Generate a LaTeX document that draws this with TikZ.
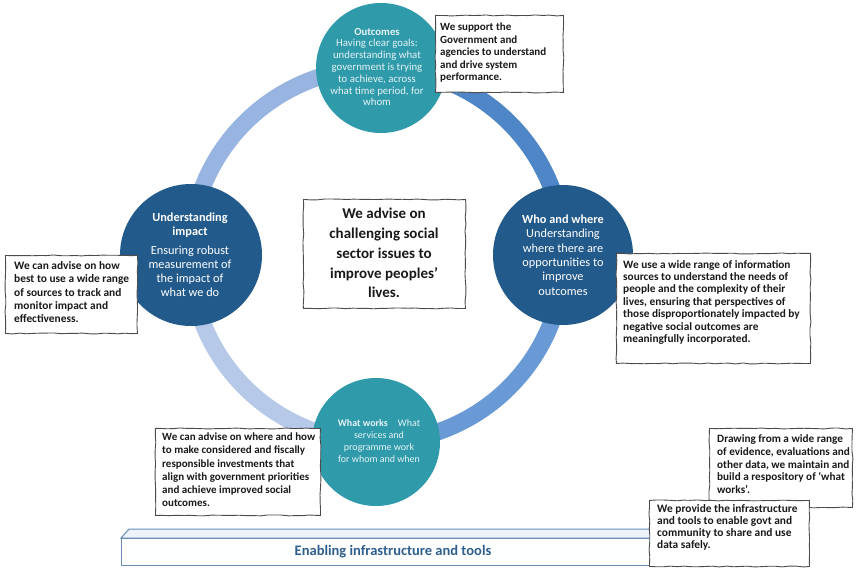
\documentclass[tikz,border=0pt]{standalone}
\usepackage{fontspec}
\setmainfont{Carlito}
\usetikzlibrary{decorations.pathmorphing}
\definecolor{tealc}{HTML}{2F9AAA}
\definecolor{navyc}{HTML}{225A8B}
\definecolor{ringA}{HTML}{4F86C8}
\definecolor{ringB}{HTML}{6A9AD6}
\definecolor{ringC}{HTML}{B6C9E8}
\definecolor{ringD}{HTML}{98B4E0}
\definecolor{barline}{HTML}{6A8DB5}
\definecolor{bartop}{HTML}{EEF3FA}
\definecolor{bartext}{HTML}{2F5F8F}
\begin{document}
\begin{tikzpicture}[x=1pt,y=-1pt,
  sketch/.style={draw=black!70, line width=0.9pt, fill=white, decorate,
    decoration={random steps,segment length=7pt,amplitude=0.5pt},
    anchor=north west, inner sep=0pt},
  boxtext/.style={anchor=north west, inner sep=0pt, align=left, text=black!90},
  bubble/.style={circle, inner sep=0pt},
  ctext/.style={align=center, inner sep=0pt, text=white},
  ringseg/.style={line width=17pt}
]
\pgfmathsetseed{7}
\useasboundingbox[fill=white] (0,0) rectangle (861,572);

% ring
\coordinate (rc) at (377,255);
\draw[ringseg, ringA] (rc) ++(-90:187) arc[start angle=-90,end angle=0,radius=187];
\draw[ringseg, ringB] (rc) ++(0:187) arc[start angle=0,end angle=90,radius=187];
\draw[ringseg, ringC] (rc) ++(90:187) arc[start angle=90,end angle=180,radius=187];
\draw[ringseg, ringD] (rc) ++(180:187) arc[start angle=180,end angle=270,radius=187];

% circles
\node[bubble, fill=tealc, minimum size=130pt] (top) at (381,68) {};
\node[bubble, fill=navyc, minimum size=142pt] (left) at (191,255) {};
\node[bubble, fill=navyc, minimum size=140pt] (right) at (563,255) {};
\node[bubble, fill=tealc, minimum size=128pt] (bottom) at (376,442) {};

\node[ctext, text=white!88!tealc, font=\fontsize{10.8}{11.8}\selectfont] (toptxt) at (377,67)
  {\textbf{Outcomes}\\Having clear goals:\\understanding what\\government is trying\\to achieve, across\\what time period, for\\whom};
\node[ctext, font=\fontsize{12.3}{14}\selectfont] (lefttxt) at (190,255)
  {\textbf{Understanding}\\\textbf{impact}\\[5pt]Ensuring robust\\measurement of\\the impact of\\what we do};
\node[ctext, font=\fontsize{12.3}{14.4}\selectfont] (righttxt) at (563,255)
  {\textbf{Who and where}\\Understanding\\where there are\\opportunities to\\improve\\outcomes};
\node[ctext, text=white!88!tealc, font=\fontsize{10}{11.7}\selectfont] (bottxt) at (379,441)
  {\textbf{What works}\quad What\\services and\\programme work\\for whom and when};

% centre box
\node[sketch, minimum width=162pt, minimum height=109pt] (centre) at (303,199) {};
\node[align=center, inner sep=0pt, font=\fontsize{15}{19.8}\selectfont\bfseries, text=black!90] (centretxt) at (384,253)
  {We advise on\\challenging social\\sector issues to\\improve peoples'\\lives.};

% boxes
\node[sketch, minimum width=128pt, minimum height=77pt] (b1) at (435,15) {};
\node[boxtext, font=\fontsize{11}{12.5}\selectfont\bfseries] (t1) at (440,23) {We support the\\Government and\\agencies to understand\\and drive system\\performance.};

\node[sketch, minimum width=194pt, minimum height=110pt] (b2) at (616,253) {};
\node[boxtext, font=\fontsize{11.3}{12.4}\selectfont\bfseries] (t2) at (623,260) {We use a wide range of information\\sources to understand the needs of\\people and the complexity of their\\lives, ensuring that perspectives of\\those disproportionately impacted by\\negative social outcomes are\\meaningfully incorporated.};

\node[sketch, minimum width=132pt, minimum height=78pt] (b3) at (5,255) {};
\node[boxtext, font=\fontsize{11.4}{13.2}\selectfont\bfseries] (t3) at (14,261.5) {We can advise on how\\best to use a wide range\\of sources to track and\\monitor impact and\\effectiveness.};

\node[sketch, minimum width=165pt, minimum height=87pt] (b4) at (155,428) {};
\node[boxtext, font=\fontsize{11}{13.3}\selectfont\bfseries] (t4) at (162,432.5) {We can advise on where and how\\to make considered and fiscally\\responsible investments that\\align with government priorities\\and achieve improved social\\outcomes.};

% bar
\path[fill=bartop, draw=barline, line width=1pt] (121,538) -- (129,529) -- (660,529) -- (660,538) -- cycle;
\node[draw=barline, fill=white!97!bartop, line width=1pt, anchor=north west, inner sep=0pt,
  minimum width=539pt, minimum height=27pt] (bar) at (121,538) {};
\node[font=\fontsize{14.5}{15}\selectfont\bfseries, text=bartext, inner sep=0pt] (bartxt) at (393,552) {Enabling infrastructure and tools};

\node[sketch, minimum width=143pt, minimum height=79pt] (b5) at (709,428) {};
\node[boxtext, font=\fontsize{11.2}{12.7}\selectfont\bfseries] (t5) at (717,434.8) {Drawing from a wide range\\of evidence, evaluations and\\other data, we maintain and\\build a respository of `what\\works'.};

\node[sketch, minimum width=160pt, minimum height=66pt] (b6) at (649,500) {};
\node[boxtext, font=\fontsize{11.4}{11.9}\selectfont\bfseries] (t6) at (657,504.7) {We provide the infrastructure\\and tools to enable govt and\\community to share and use\\data safely.};
\end{tikzpicture}
\end{document}
